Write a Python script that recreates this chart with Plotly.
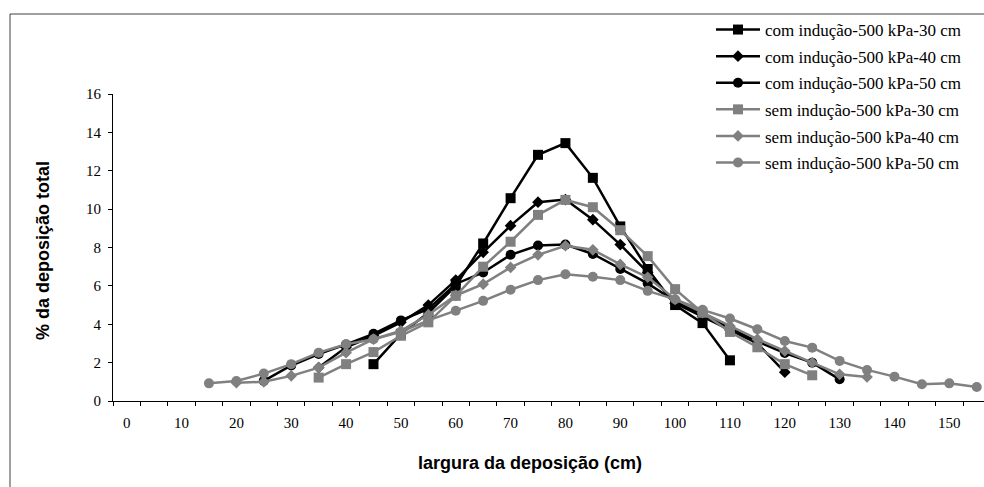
import plotly.graph_objects as go

# ---- data ----
x_com30 = [45, 50, 55, 60, 65, 70, 75, 80, 85, 90, 95, 100, 105, 110]
y_com30 = [1.92, 3.5, 4.6, 6.0, 8.21, 10.57, 12.83, 13.44, 11.63, 9.1, 6.88, 5.0, 4.06, 2.12]

x_com40 = [35, 40, 45, 50, 55, 60, 65, 70, 75, 80, 85, 90, 95, 100, 105, 110, 115, 120]
y_com40 = [1.74, 2.8, 3.4, 4.1, 5.0, 6.3, 7.75, 9.14, 10.36, 10.5, 9.45, 8.15, 6.7, 5.1, 4.4, 3.7, 3.0, 1.5]

x_com50 = [25, 30, 35, 40, 45, 50, 55, 60, 65, 70, 75, 80, 85, 90, 95, 100, 105, 110, 115, 120, 125, 130]
y_com50 = [1.05, 1.85, 2.45, 2.95, 3.5, 4.2, 4.8, 6.1, 6.7, 7.62, 8.1, 8.15, 7.66, 6.88, 6.13, 5.2, 4.5, 3.8, 3.1, 2.5, 2.0, 1.13]

x_sem30 = [35, 40, 45, 50, 55, 60, 65, 70, 75, 80, 85, 90, 95, 100, 105, 110, 115, 120, 125]
y_sem30 = [1.22, 1.92, 2.55, 3.4, 4.1, 5.48, 7.0, 8.3, 9.7, 10.48, 10.1, 8.9, 7.55, 5.83, 4.6, 3.6, 2.8, 1.92, 1.34]

x_sem40 = [20, 25, 30, 35, 40, 45, 50, 55, 60, 65, 70, 75, 80, 85, 90, 95, 100, 105, 110, 115, 120, 125, 130, 135]
y_sem40 = [0.95, 1.0, 1.31, 1.74, 2.52, 3.22, 3.66, 4.5, 5.5, 6.09, 6.96, 7.62, 8.09, 7.88, 7.12, 6.45, 5.3, 4.6, 3.9, 3.22, 2.61, 2.0, 1.39, 1.25]

x_sem50 = [15, 20, 25, 30, 35, 40, 45, 50, 55, 60, 65, 70, 75, 80, 85, 90, 95, 100, 105, 110, 115, 120, 125, 130, 135, 140, 145, 150, 155]
y_sem50 = [0.92, 1.04, 1.43, 1.92, 2.52, 2.96, 3.22, 3.6, 4.2, 4.7, 5.22, 5.8, 6.3, 6.61, 6.48, 6.3, 5.74, 5.3, 4.75, 4.3, 3.74, 3.13, 2.78, 2.09, 1.62, 1.27, 0.87, 0.92, 0.73]

names = ["com indução-500 kPa-30 cm", "com indução-500 kPa-40 cm", "com indução-500 kPa-50 cm",
         "sem indução-500 kPa-30 cm", "sem indução-500 kPa-40 cm", "sem indução-500 kPa-50 cm"]

x_ticks = list(range(0, 151, 10))
y_ticks = list(range(0, 17, 2))
x_title = "largura da deposição (cm)"
y_title = "% da deposição total"

# ---- layout geometry (pixels) ----
W, H = 984, 487
L, R, T, B = 113, 0, 94, 86
PW, PH = W - L - R, H - T - B

def px(xp):
    return (xp - L) / PW

def py(yp):
    return (H - B - yp) / PH

BLACK = "#000000"
GRAY = "#808080"

series = [
    (x_com30, y_com30, BLACK, "square", 10),
    (x_com40, y_com40, BLACK, "diamond", 9),
    (x_com50, y_com50, BLACK, "circle", 10),
    (x_sem30, y_sem30, GRAY, "square", 10),
    (x_sem40, y_sem40, GRAY, "diamond", 9),
    (x_sem50, y_sem50, GRAY, "circle", 10),
]

fig = go.Figure()
for i, (xs, ys, col, sym, sz) in enumerate(series):
    fig.add_trace(go.Scatter(
        x=xs, y=ys, mode="lines+markers", name=names[i],
        legendgroup=f"g{i}",
        line=dict(color=col, width=2.5),
        marker=dict(color=col, symbol=sym, size=sz, line=dict(width=0)),
        cliponaxis=False,
    ))

x_end = -2.5 + PW / 5.484

fig.update_layout(
    width=W, height=H,
    margin=dict(l=L, r=R, t=T, b=B, pad=0),
    paper_bgcolor="white", plot_bgcolor="white",
    showlegend=True,
    legend=dict(
        x=px(711), y=py(12), xanchor="left", yanchor="top",
        font=dict(family="Liberation Serif, Times New Roman, serif", size=17, color="black"),
        bgcolor="rgba(0,0,0,0)", borderwidth=0,
        tracegroupgap=1.5, itemwidth=44,
    ),
    xaxis=dict(
        range=[-2.5, x_end], showgrid=False, zeroline=False,
        showline=True, linecolor="black", linewidth=1,
        tickmode="array", tickvals=x_ticks, ticktext=[str(v) for v in x_ticks],
        ticks="outside", ticklen=4, tickcolor="rgba(0,0,0,0)",
        ticklabelstandoff=4,
        tickfont=dict(family="Liberation Serif, Times New Roman, serif", size=15, color="black"),
        minor=dict(tickmode="linear", tick0=-2.5, dtick=5, ticks="outside", ticklen=4,
                   tickcolor="black", tickwidth=1, showgrid=False),
    ),
    yaxis=dict(
        range=[0, 16], showgrid=False, zeroline=False,
        showline=True, linecolor="black", linewidth=1,
        tickmode="array", tickvals=y_ticks,
        ticks="outside", ticklen=4, tickcolor="black",
        ticklabelstandoff=4,
        tickfont=dict(family="Liberation Serif, Times New Roman, serif", size=15, color="black"),
    ),
    annotations=[
        dict(text=x_title, xref="paper", yref="paper", x=px(529.5), y=py(463),
             xanchor="center", yanchor="middle", showarrow=False,
             font=dict(family="Liberation Sans, Arial, sans-serif", size=18, color="black", weight="bold")),
        dict(text=y_title, xref="paper", yref="paper", x=px(43), y=py(251),
             xanchor="center", yanchor="middle", showarrow=False, textangle=-90,
             font=dict(family="Liberation Sans, Arial, sans-serif", size=18, color="black", weight="bold")),
    ],
    shapes=[
        dict(type="line", xref="paper", yref="paper", x0=px(10), x1=px(984), y0=py(14), y1=py(14),
             line=dict(color="#404040", width=1)),
        dict(type="line", xref="paper", yref="paper", x0=px(10), x1=px(10), y0=py(14), y1=py(487),
             line=dict(color="#404040", width=1)),
    ],
)

fig.write_html("out.html",
               config={"displayModeBar": False},
               post_script="document.body.style.margin='0px';document.body.style.overflow='hidden';")
